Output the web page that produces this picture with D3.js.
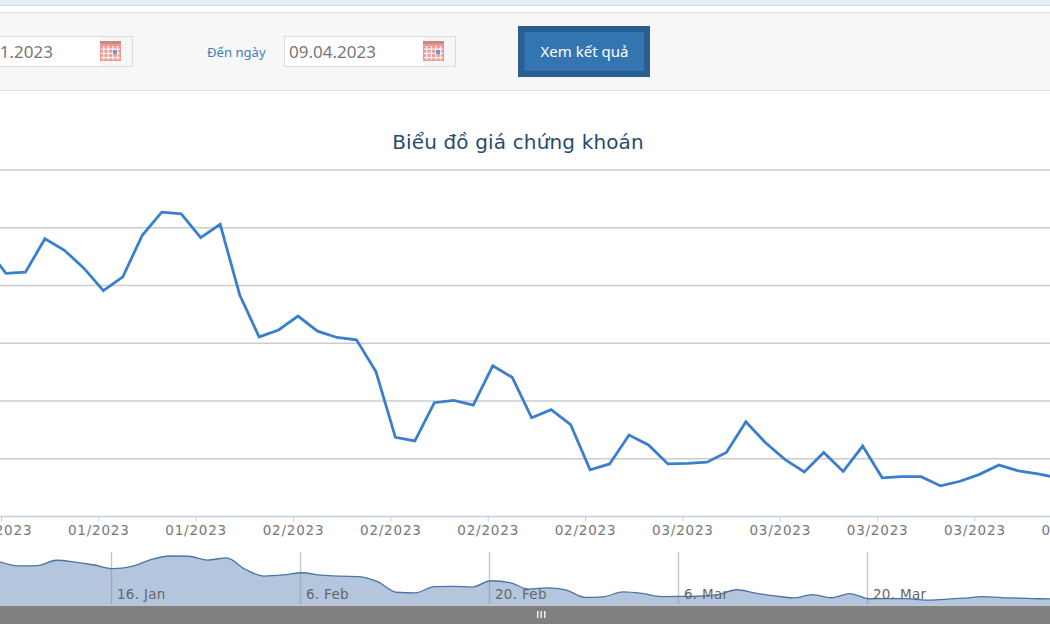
<!DOCTYPE html>
<html lang="vi">
<head>
<meta charset="utf-8">
<title>Biểu đồ giá chứng khoán</title>
<script src="https://cdnjs.cloudflare.com/ajax/libs/d3/7.8.5/d3.min.js"></script>
<style>
  html, body { margin: 0; padding: 0; background: #fff; overflow: hidden; }
  svg { display: block; }
  text { font-family: "DejaVu Sans", sans-serif; }
  .form { font-family: "Noto Sans", sans-serif; }
</style>
</head>
<body>
<svg id="chart" width="1050" height="630"></svg>
<script>
// Closing prices per trading session
const closePrices = [
  12.65, 12.21, 12.23, 12.81, 12.61, 12.30, 11.91, 12.15, 12.87, 13.27, 13.24,
  12.83, 13.06, 11.84, 11.11, 11.23, 11.47, 11.21, 11.10, 11.06, 10.51, 9.37,
  9.31, 9.97, 10.01, 9.93, 10.61, 10.41, 9.71, 9.85, 9.59, 8.81, 8.91, 9.41,
  9.24, 8.91, 8.92, 8.94, 9.11, 9.64, 9.28, 8.99, 8.77, 9.11, 8.78, 9.22, 8.67,
  8.69, 8.69, 8.53, 8.61, 8.73, 8.89, 8.79, 8.74, 8.67, 8.65
];
const priceTicks = [8, 9, 10, 11, 12, 13, 14];
const weekLabels = ["01/2023", "01/2023", "01/2023", "02/2023", "02/2023", "02/2023",
                    "02/2023", "03/2023", "03/2023", "03/2023", "03/2023", "04/2023"];
const overviewLabels = ["16. Jan", "6. Feb", "20. Feb", "6. Mar", "20. Mar"];
const overviewSessions = [6, 16, 26, 36, 46];

const svg = d3.select("#chart");
const W = 1050;

// ---- Page strip and date form ----
svg.append("rect").attr("x", 0).attr("y", 0).attr("width", W).attr("height", 5).attr("fill", "#e4eef5");
svg.append("rect").attr("x", 0).attr("y", 5).attr("width", W).attr("height", 1).attr("fill", "#cfdbe3");
svg.append("rect").attr("x", -1).attr("y", 12.5).attr("width", W + 2).attr("height", 78)
  .attr("fill", "#f7f7f7").attr("stroke", "#dedede");

function calendarIcon(g, x, y) {
  g.append("rect").attr("x", x).attr("y", y).attr("width", 21).attr("height", 20).attr("fill", "#ee9a94");
  g.append("rect").attr("x", x).attr("y", y).attr("width", 21).attr("height", 3).attr("fill", "#c98a86");
  d3.range(4).forEach(i => g.append("rect").attr("x", x + 3 + i * 4.6).attr("y", y + 5).attr("width", 1.4)
    .attr("height", 14).attr("fill", "#fdeeed"));
  d3.range(3).forEach(i => g.append("rect").attr("x", x + 1).attr("y", y + 7.5 + i * 4.2).attr("width", 19)
    .attr("height", 1.4).attr("fill", "#fdeeed"));
  g.append("rect").attr("x", x + 13).attr("y", y + 9).attr("width", 4).attr("height", 4).attr("fill", "#7f8fd8");
}

function dateInput(x, value) {
  const g = svg.append("g");
  g.append("rect").attr("x", x + .5).attr("y", 36.5).attr("width", 171).attr("height", 30)
    .attr("fill", "#fff").attr("stroke", "#dcdcdc");
  g.append("rect").attr("x", x + 139).attr("y", 37).attr("width", 32).attr("height", 29).attr("fill", "#f7f7f7");
  g.append("text").attr("class", "form").attr("x", x + 5).attr("y", 58)
    .attr("font-size", 17).attr("fill", "#777").text(value);
  calendarIcon(g, x + 139, 41);
}
dateInput(-39, "09.01.2023");
dateInput(284, "09.04.2023");

svg.append("text").attr("class", "form").attr("x", 207).attr("y", 57)
  .attr("font-size", 13.1).attr("fill", "#3f7fbd").text("Đến ngày");

svg.append("rect").attr("x", 518).attr("y", 26).attr("width", 132).attr("height", 51).attr("fill", "#285f90");
svg.append("rect").attr("x", 524.5).attr("y", 32).attr("width", 119.5).attr("height", 39).attr("fill", "#3375b1");
svg.append("text").attr("class", "form").attr("x", 584.5).attr("y", 57).attr("text-anchor", "middle")
  .attr("font-size", 15).attr("fill", "#fff").text("Xem kết quả");

// ---- Title ----
svg.append("text").attr("x", 518).attr("y", 149).attr("text-anchor", "middle")
  .attr("font-size", 20).attr("letter-spacing", .15).attr("fill", "#274b6d").text("Biểu đồ giá chứng khoán");

// ---- Main price panel ----
const x = d3.scaleLinear().domain([0, 1]).range([-13.47, 6]);
const y = d3.scaleLinear().domain([8, 14]).range([516.5, 170]);

svg.append("g").selectAll("line").data(priceTicks.slice(1)).join("line")
  .attr("x1", 0).attr("x2", W)
  .attr("y1", d => y(d)).attr("y2", d => y(d))
  .attr("stroke", "#cccccc").attr("stroke-width", 1.5);

// Weekly ticks sit a little ahead of the session they open
const weekSlots = weekLabels.map((_, i) => 0.74 + i * 5);
const xAxis = d3.axisBottom(x)
  .tickValues(weekSlots)
  .tickSize(5)
  .tickPadding(4)
  .tickFormat((_, i) => weekLabels[i]);
const axisG = svg.append("g").attr("transform", "translate(0,516.5)").call(xAxis);
axisG.select(".domain").attr("stroke", "#c0d0e0").attr("stroke-width", 1.4).attr("d", `M0,0H${W}`);
axisG.selectAll(".tick line").attr("stroke", "#c0d0e0");
axisG.selectAll(".tick text")
  .attr("font-family", "DejaVu Sans")
  .attr("font-size", 13.5).attr("letter-spacing", .8).attr("fill", "#777");

svg.append("path").datum(closePrices)
  .attr("fill", "none").attr("stroke", "#3a7fcd").attr("stroke-width", 2.8).attr("stroke-linejoin", "miter")
  .attr("d", d3.line().x((_, i) => x(i)).y(d => y(d)));

// ---- Overview strip under the main panel ----
const xNav = d3.scaleLinear().domain([0, 1]).range([-0.4, 18.5]);
const yNav = d3.scaleLinear().domain([8, 14]).range([605, 549.2]);

svg.append("path").datum(closePrices)
  .attr("fill", "#b3c6dd")
  .attr("d", d3.area().curve(d3.curveMonotoneX).x((_, i) => xNav(i)).y0(605).y1(d => yNav(d)));

const navTick = s => xNav(s - 0.08);
svg.append("g").selectAll("line").data(overviewSessions).join("line")
  .attr("x1", d => navTick(d)).attr("x2", d => navTick(d))
  .attr("y1", 552).attr("y2", 605)
  .attr("stroke", "#8f8f8f").attr("stroke-opacity", .5).attr("stroke-width", 1.4);

svg.append("path").datum(closePrices)
  .attr("fill", "none").attr("stroke", "#4a74a5").attr("stroke-width", 1.3)
  .attr("d", d3.line().curve(d3.curveMonotoneX).x((_, i) => xNav(i)).y(d => yNav(d)));

svg.append("g").selectAll("text").data(overviewLabels).join("text")
  .attr("x", (_, i) => navTick(overviewSessions[i]) + 5.5).attr("y", 599)
  .attr("font-size", 13.5).attr("letter-spacing", .3).attr("fill", "#666")
  .text(d => d);

// ---- Scrollbar ----
svg.append("rect").attr("x", 0).attr("y", 605).attr("width", W).attr("height", 1).attr("fill", "#c8c8c8");
svg.append("rect").attr("x", 0).attr("y", 606).attr("width", W).attr("height", 18).attr("fill", "#808080");
svg.append("g").selectAll("rect").data([0, 1, 2]).join("rect")
  .attr("x", d => 537 + d * 3.5).attr("y", 611).attr("width", 1.5).attr("height", 7).attr("fill", "#eee");
</script>
</body>
</html>
